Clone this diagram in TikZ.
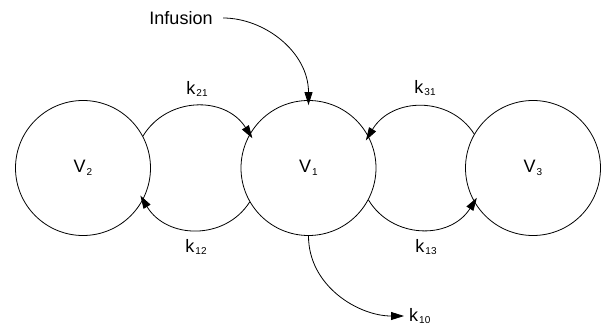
\documentclass[tikz,border=0pt]{standalone}
\usepackage{fontspec}
\setmainfont{Liberation Sans}
\usetikzlibrary{arrows.meta}
\newcommand{\idx}[1]{\kern1pt\raisebox{-2.5pt}{\fontsize{10}{10}\selectfont #1}}

\begin{document}
\begin{tikzpicture}[x=1pt,y=1pt,
		font=\fontsize{18}{20}\selectfont,
		compartment/.style={circle,draw,line width=0.8pt,inner sep=0pt,minimum size=135pt},
		flow/.style={line width=0.8pt,-{Triangle[length=13pt,width=8pt]},shorten >=-5pt}]
		\useasboundingbox (0,0) rectangle (604,325);
		% compartments
		\node[compartment] (v2) at (83,157) {V\idx{2}};
		\node[compartment] (v1) at (308.5,157) {V\idx{1}};
		\node[compartment] (v3) at (533,157) {V\idx{3}};
		% rate constants
		\node (k21) at (197,236) {k\idx{21}};
		\node (k12) at (196,78) {k\idx{12}};
		\node (k31) at (425,237) {k\idx{31}};
		\node (k13) at (426,78) {k\idx{13}};
		\node (inf) at (181,307) {Infusion};
		\node[anchor=west,inner sep=0pt] (k10) at (409,9) {k\idx{10}};
		% transfers between compartments
		\draw[flow] (v2.28) to[out=59,in=122.5,looseness=1.1] (v1.150);
		\draw[flow] (v1.210) to[out=-122.5,in=-59,looseness=1.1] (v2.-28);
		\draw[flow] (v3.150) to[out=122.5,in=59,looseness=1.1] (v1.28);
		\draw[flow] (v1.-28) to[out=-59,in=-122.5,looseness=1.1] (v3.-150);
		% input and elimination
		\draw[flow,shorten <=7pt] (inf.east) to[out=0,in=90] (v1.north);
		\draw[flow,shorten >=5pt] (v1.south) to[out=-90,in=180] (k10.west);
\end{tikzpicture}
\end{document}
